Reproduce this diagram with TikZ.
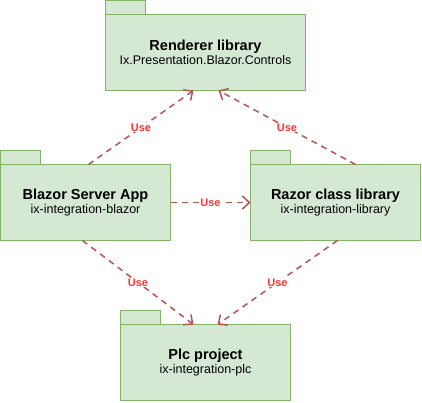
\documentclass[tikz,border=0pt]{standalone}
\usepackage{fontspec}
\setmainfont{Liberation Sans}
\usetikzlibrary{arrows.meta}
\definecolor{pkgfill}{HTML}{D5E8D4}
\definecolor{pkgline}{HTML}{82B366}
\definecolor{uselink}{HTML}{B85450}
\definecolor{usetext}{HTML}{FF3333}
\newcommand{\pkgtext}[2]{{\fontsize{14.5}{16}\selectfont\bfseries #1}\\[1pt]{\fontsize{12.5}{14}\selectfont #2}}
\newcommand{\pkgtab}[1]{\draw [pkgline,fill=pkgfill,line width=1pt] (#1.north west) rectangle ++(40,-14);}
\begin{document}
\begin{tikzpicture}[x=1pt,y=-1pt,
  pkg/.style={draw=pkgline,fill=pkgfill,line width=1pt,minimum height=76pt,inner sep=0pt,outer sep=0pt,align=center},
  uses/.style={uselink,line width=1.5pt,dash pattern=on 6pt off 5pt,-{Straight Barb[length=7pt,width=13pt]}},
  uselabel/.style={fill=white,text=usetext,font=\fontsize{11}{12}\selectfont\bfseries,inner sep=1pt}]
\useasboundingbox (-0.5,-0.5) rectangle (421.5,401.5);
\node [pkg,minimum width=200pt] (render) at (205,52) {\pkgtext{Renderer library}{Ix.Presentation.Blazor.Controls}};
\pkgtab{render}
\node [pkg,minimum width=170pt] (app) at (85,202) {\pkgtext{Blazor Server App}{ix-integration-blazor}};
\pkgtab{app}
\node [pkg,minimum width=170pt] (razor) at (335,202) {\pkgtext{Razor class library}{ix-integration-library}};
\pkgtab{razor}
\node [pkg,minimum width=170pt] (plc) at (205,362) {\pkgtext{Plc project}{ix-integration-plc}};
\pkgtab{plc}
\draw [uses] ([xshift=3pt]app.north) -- node [uselabel] {Use} ([xshift=-12pt]render.south);
\draw [uses] ([xshift=20pt]razor.north) -- node [uselabel] {Use} ([xshift=13pt]render.south);
\draw [uses] (app.east) -- node [uselabel] {Use} (razor.west);
\draw [uses] ([xshift=-3pt]app.south) -- node [uselabel] {Use} ([xshift=-12pt]plc.north);
\draw [uses] ([xshift=2pt]razor.south) -- node [uselabel] {Use} ([xshift=12pt]plc.north);
\end{tikzpicture}
\end{document}
